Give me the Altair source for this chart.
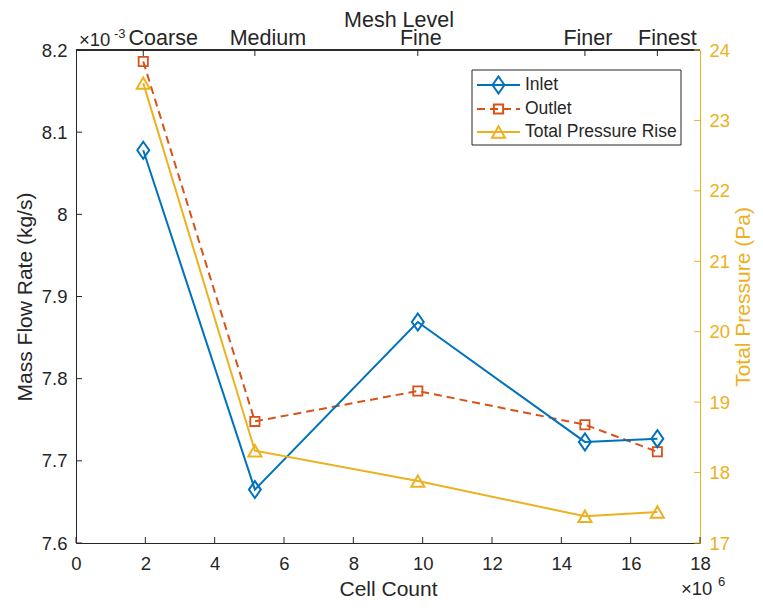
import altair as alt
import pandas as pd

# ---------------- data ----------------
cell_count = [1.94, 5.16, 9.86, 14.68, 16.77]          # x 10^6
mesh_levels = ["Coarse", "Medium", "Fine", "Finer", "Finest"]
inlet = [8.078, 7.665, 7.869, 7.723, 7.727]            # x 10^-3 kg/s
outlet = [8.186, 7.748, 7.785, 7.744, 7.711]           # x 10^-3 kg/s
pressure = [23.53, 18.31, 17.88, 17.38, 17.44]         # Pa
series_names = ["Inlet", "Outlet", "Total Pressure Rise"]

x_ticks = [0, 2, 4, 6, 8, 10, 12, 14, 16, 18]
left_ticks = [7.6, 7.7, 7.8, 7.9, 8.0, 8.1, 8.2]
right_ticks = [17, 18, 19, 20, 21, 22, 23, 24]

# ---------------- style ----------------
BLUE, ORANGE, YELLOW, INK = "#0072BD", "#D95319", "#EDB120", "#262626"
FONT = "Liberation Sans"
W, H = 624, 493
TICK_FS, TITLE_FS, TOP_FS, LEG_FS = 18.5, 21, 21.5, 17.5
TL = 6  # inward tick length
top_label_dx = [20, 13, 3, 3, 10]  # label nudges as seen in the reference
DIAMOND = "M0,-1L0.7,0L0,1L-0.7,0Z"

df = pd.DataFrame({"cells": cell_count, "mesh": mesh_levels,
                   "inlet": inlet, "outlet": outlet, "pressure": pressure})
xt = pd.DataFrame({"v": x_ticks})
lt = pd.DataFrame({"v": left_ticks})
rt = pd.DataFrame({"v": right_ticks})

xscale = alt.Scale(domain=[0, 18], nice=False, zero=False)
xaxis = alt.Axis(values=x_ticks, title="Cell Count", ticks=False, tickSize=0, grid=False,
                 labelFlush=False, domainColor=INK, labelColor=INK, titleColor=INK,
                 labelFontSize=TICK_FS, titleFontSize=TITLE_FS, titleFontWeight="normal",
                 labelPadding=11, titlePadding=6, labelFont=FONT, titleFont=FONT)
lscale = alt.Scale(domain=[7.6, 8.2], nice=False, zero=False)
laxis = alt.Axis(orient="left", values=left_ticks, labelExpr="format(datum.value, '~g')",
                 title="Mass Flow Rate (kg/s)", ticks=False, tickSize=0, grid=False,
                 labelFlush=False, domainColor=INK, labelColor=INK, titleColor=INK,
                 labelFontSize=TICK_FS, titleFontSize=TITLE_FS, titleFontWeight="normal",
                 labelPadding=9, titlePadding=6, labelFont=FONT, titleFont=FONT)
rscale = alt.Scale(domain=[17, 24], nice=False, zero=False)
raxis = alt.Axis(orient="right", values=right_ticks, title="Total Pressure (Pa)",
                 ticks=False, tickSize=0, grid=False, labelFlush=False,
                 domainColor=YELLOW, labelColor=YELLOW, titleColor=YELLOW,
                 labelFontSize=TICK_FS, titleFontSize=TITLE_FS, titleFontWeight="normal",
                 labelPadding=9, titlePadding=3, titleAngle=270, titleBaseline="top",
                 labelFont=FONT, titleFont=FONT)


def X(field):
    return alt.X(f"{field}:Q", scale=xscale, axis=xaxis)


def YL(field):
    return alt.Y(f"{field}:Q", scale=lscale, axis=laxis)


def YR(field):
    return alt.Y(f"{field}:Q", scale=rscale, axis=raxis)


base = alt.Chart(df)

inlet_line = base.mark_line(color=BLUE, strokeWidth=2).encode(x=X("cells"), y=YL("inlet"))
inlet_pts = base.mark_point(shape=DIAMOND, size=290, color=BLUE, filled=False,
                            strokeWidth=2, opacity=1).encode(x=X("cells"), y=YL("inlet"))
outlet_line = base.mark_line(color=ORANGE, strokeWidth=2, strokeDash=[8, 5]).encode(
    x=X("cells"), y=YL("outlet"))
outlet_pts = base.mark_point(shape="square", size=85, color=ORANGE, filled=False,
                             strokeWidth=1.8, opacity=1).encode(x=X("cells"), y=YL("outlet"))
lticks = alt.Chart(lt).mark_rule(color=INK, strokeWidth=1).encode(
    y=YL("v"), x=alt.value(0), x2=alt.value(TL))
bticks = alt.Chart(xt).mark_rule(color=INK, strokeWidth=1).encode(
    x=X("v"), y=alt.value(H), y2=alt.value(H - TL))
tticks = base.mark_rule(color=INK, strokeWidth=1).encode(
    x=X("cells"), y=alt.value(0), y2=alt.value(TL))
top_line = base.mark_rule(color=INK, strokeWidth=1).encode(
    x=alt.value(0), x2=alt.value(W), y=alt.value(0))
top_labels = [
    base.transform_filter(alt.datum.mesh == m).mark_text(
        font=FONT, fontSize=TOP_FS, color=INK, baseline="alphabetic", dx=top_label_dx[i]
    ).encode(x=X("cells"), y=alt.value(-5), text="mesh:N")
    for i, m in enumerate(mesh_levels)
]

left_group = alt.layer(lticks, bticks, tticks, top_line, *top_labels,
                       outlet_line, inlet_line, outlet_pts, inlet_pts)

press_line = base.mark_line(color=YELLOW, strokeWidth=2).encode(x=X("cells"), y=YR("pressure"))
press_pts = base.mark_point(shape="triangle-up", size=170, color=YELLOW, filled=False,
                            strokeWidth=2, opacity=1).encode(x=X("cells"), y=YR("pressure"))
rticks = alt.Chart(rt).mark_rule(color=YELLOW, strokeWidth=1).encode(
    y=YR("v"), x=alt.value(W - TL), x2=alt.value(W))
right_group = alt.layer(rticks, press_line, press_pts)

# ---------------- annotations: top title, exponents, legend ----------------
one = pd.DataFrame({"name": series_names})
first = alt.Chart(one.head(1))
ann = [
    first.mark_text(font=FONT, fontSize=TOP_FS, color=INK, baseline="alphabetic").encode(
        x=alt.value(323), y=alt.value(-23), text=alt.value("Mesh Level")),
    first.mark_text(font=FONT, fontSize=TICK_FS, color=INK, align="left",
                    baseline="alphabetic").encode(
        x=alt.value(3), y=alt.value(-4), text=alt.value("\u00d710")),
    first.mark_text(font=FONT, fontSize=13, color=INK, align="left",
                    baseline="alphabetic").encode(
        x=alt.value(38), y=alt.value(-12), text=alt.value("-3")),
    first.mark_text(font=FONT, fontSize=TICK_FS, color=INK, align="left",
                    baseline="alphabetic").encode(
        x=alt.value(605), y=alt.value(H + 52), text=alt.value("\u00d710")),
    first.mark_text(font=FONT, fontSize=13, color=INK, align="left",
                    baseline="alphabetic").encode(
        x=alt.value(642), y=alt.value(H + 43), text=alt.value("6")),
    first.mark_rect(fill="white", stroke=INK, strokeWidth=1).encode(
        x=alt.value(396), x2=alt.value(605), y=alt.value(20), y2=alt.value(95)),
]
leg_y = [35, 59, 82]
leg_color = [BLUE, ORANGE, YELLOW]
leg_shape = [DIAMOND, "square", "triangle-up"]
leg_size = [290, 85, 170]
leg_dash = [[1, 0], [8, 5], [1, 0]]
for i, nm in enumerate(series_names):
    row = alt.Chart(one.iloc[[i]])
    ann.append(row.mark_rule(color=leg_color[i], strokeWidth=2, strokeDash=leg_dash[i]).encode(
        x=alt.value(401), x2=alt.value(444), y=alt.value(leg_y[i])))
    ann.append(row.mark_point(shape=leg_shape[i], size=leg_size[i], color=leg_color[i],
                              filled=False, strokeWidth=2, opacity=1).encode(
        x=alt.value(422.5), y=alt.value(leg_y[i])))
    ann.append(row.mark_text(font=FONT, fontSize=LEG_FS, color=INK, align="left",
                             baseline="middle").encode(
        x=alt.value(449), y=alt.value(leg_y[i]), text="name:N"))

chart = alt.layer(left_group, right_group, *ann).resolve_scale(y="independent").properties(
    width=W, height=H,
    autosize=alt.AutoSizeParams(type="none"),
    padding={"left": 68, "top": 42, "right": 55, "bottom": 57},
).configure_view(stroke=None).configure(font=FONT, background="white")

chart.save("out.html", embed_options={"renderer": "svg", "actions": False})
